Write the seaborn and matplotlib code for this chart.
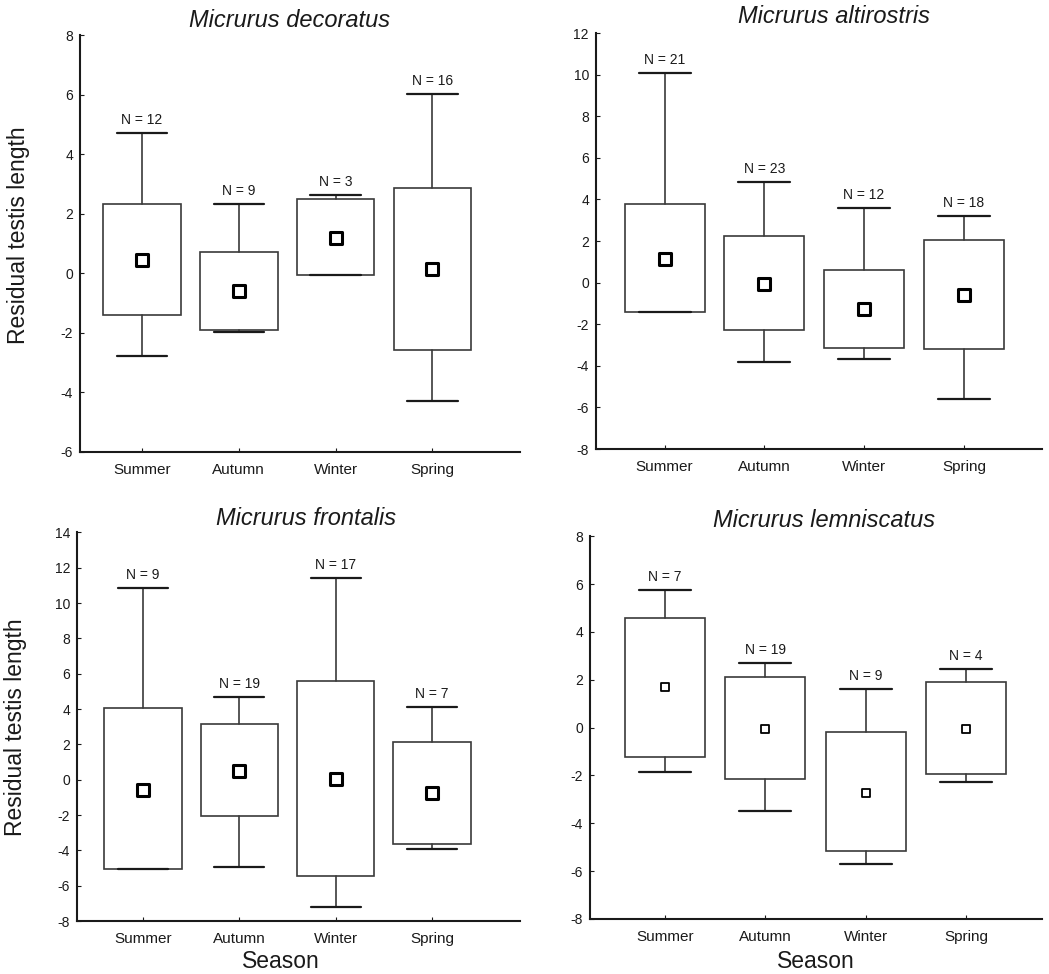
import numpy as np
import matplotlib
matplotlib.use('Agg')
import matplotlib.pyplot as plt
import seaborn as sns

# datos (media, caja, bigotes, N)
seasons = ['Summer', 'Autumn', 'Winter', 'Spring']
species = ['Micrurus decoratus', 'Micrurus altirostris',
           'Micrurus frontalis', 'Micrurus lemniscatus']

mean_vals = [[0.44, -0.59, 1.20, 0.13],
             [1.15, -0.05, -1.29, -0.60],
             [-0.58, 0.51, 0.04, -0.75],
             [1.69, -0.05, -2.74, -0.05]]
box_low = [[-1.41, -1.89, -0.06, -2.58],
           [-1.41, -2.29, -3.13, -3.21],
           [-5.08, -2.06, -5.43, -3.66],
           [-1.21, -2.17, -5.17, -1.96]]
box_high = [[2.32, 0.70, 2.48, 2.88],
            [3.79, 2.26, 0.59, 2.06],
            [4.04, 3.13, 5.58, 2.15],
            [4.56, 2.10, -0.19, 1.92]]
whis_low = [[-2.78, -1.97, -0.06, -4.30],
            [-1.41, -3.82, -3.67, -5.61],
            [-5.08, -4.94, -7.21, -3.92],
            [-1.87, -3.49, -5.70, -2.29]]
whis_high = [[4.70, 2.32, 2.64, 6.01],
             [10.08, 4.84, 3.60, 3.19],
             [10.87, 4.66, 11.43, 4.11],
             [5.76, 2.71, 1.63, 2.44]]
n_vals = [[12, 9, 3, 16],
          [21, 23, 12, 18],
          [9, 19, 17, 7],
          [7, 19, 9, 4]]

y_limits = [(-6, 8), (-8, 12), (-8, 14), (-8, 8)]

sns.set_style('ticks')
plt.rcParams['font.family'] = ['Liberation Sans', 'DejaVu Sans']
plt.rcParams['axes.unicode_minus'] = False

fig = plt.figure(figsize=(10.49, 9.74), dpi=100)

# posiciones de los ejes (fraccion de figura)
rects = [[0.0763, 0.536, 0.419, 0.428],
         [0.568, 0.539, 0.425, 0.427],
         [0.0734, 0.0544, 0.422, 0.399],
         [0.5624, 0.0565, 0.431, 0.393]]
x_limits = [(-0.64, 3.9), (-0.69, 3.78), (-0.685, 3.91), (-0.75, 3.76)]
title_x = [0.477, 0.534, 0.517, 0.518]
title_pad = [5.5, 7.5, 5.0, 6.5]

line_col = '#3a3a3a'
text_col = '#1a1a1a'

for k in range(4):
    ax = fig.add_axes(rects[k])
    stats = []
    for i in range(4):
        stats.append({'med': box_low[k][i], 'q1': box_low[k][i], 'q3': box_high[k][i],
                      'whislo': whis_low[k][i], 'whishi': whis_high[k][i],
                      'fliers': [], 'label': seasons[i]})
    ax.bxp(stats, positions=range(4), widths=0.8, capwidths=0.52,
           showfliers=False, patch_artist=True,
           boxprops=dict(facecolor='white', edgecolor=line_col, linewidth=1.2),
           whiskerprops=dict(color=line_col, linewidth=1.2),
           capprops=dict(color=text_col, linewidth=1.6),
           medianprops=dict(linewidth=0))

    # media como cuadrado
    if k < 3:
        msize, medge = 80, 2.2
    else:
        msize, medge = 35, 1.3
    sns.scatterplot(x=list(range(4)), y=mean_vals[k], marker='s', s=msize,
                    color='white', edgecolor='black', linewidth=medge,
                    ax=ax, zorder=5, legend=False)

    # etiquetas N
    for i in range(4):
        ax.annotate('N = %d' % n_vals[k][i], (i, whis_high[k][i]),
                    xytext=(0, 6.5), textcoords='offset points',
                    ha='center', va='baseline', fontsize=10, color=text_col)

    ax.set_xlim(x_limits[k])
    ax.set_ylim(y_limits[k])
    ax.set_yticks(np.arange(y_limits[k][0], y_limits[k][1] + 0.1, 2))
    ax.set_xticks(range(4))
    ax.set_xticklabels(seasons, fontsize=11)
    ax.tick_params(axis='y', direction='in', length=3, labelsize=10, pad=5,
                   colors=text_col)
    ax.tick_params(axis='x', direction='in', length=3, pad=8, colors=text_col)
    for sp in ['top', 'right']:
        ax.spines[sp].set_visible(False)
    for sp in ['left', 'bottom']:
        ax.spines[sp].set_linewidth(1.5)
        ax.spines[sp].set_color(text_col)

    ax.set_title(species[k], fontsize=17, style='italic', x=title_x[k],
                 pad=title_pad[k], color=text_col)

    if k in (0, 2):
        ax.set_ylabel('Residual testis length', fontsize=16.5, color=text_col)
        ax.yaxis.label.set_va('center')
        ax.yaxis.set_label_coords(-0.14, 0.52 if k == 0 else 0.5)
    if k in (2, 3):
        ax.set_xlabel('Season', fontsize=16.5, color=text_col)
        ax.xaxis.label.set_va('center')
        if k == 2:
            ax.xaxis.set_label_coords(0.46, -0.105)
        else:
            ax.xaxis.set_label_coords(0.5, -0.112)

fig.savefig('out.png', dpi=100, facecolor='white')
